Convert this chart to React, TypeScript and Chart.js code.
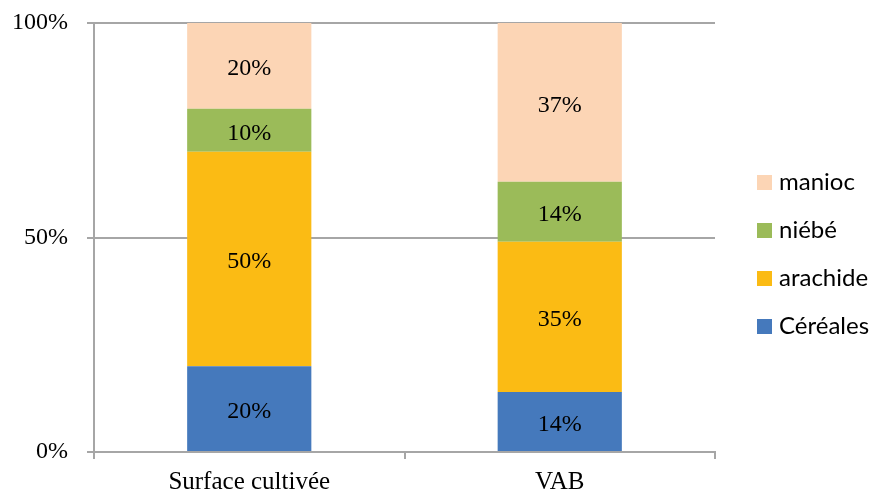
import React, { useEffect, useRef } from "react";
import { Chart, registerables } from "chart.js";

Chart.register(...registerables);

const categories = ["Surface cultivée", "VAB"];
const seriesNames = ["Céréales", "arachide", "niébé", "manioc"];
const cereales = [20, 14];
const arachide = [50, 35];
const niebe = [10, 14];
const manioc = [20, 37];
const seriesColors = ["#4579BC", "#FBBB14", "#9BBB59", "#FCD5B5"];
const yTicks = [0, 50, 100];

const SERIF = "'Liberation Serif', 'Times New Roman', serif";
const SANS = "Lato, 'Liberation Sans', sans-serif";
const GRID = "#a6a6a6";

const labelPlugin = {
  id: "segLabels",
  afterDatasetsDraw(chart: any) {
    const ctx = chart.ctx;
    ctx.save();
    ctx.font = `24px ${SERIF}`;
    ctx.fillStyle = "#000";
    ctx.textAlign = "center";
    ctx.textBaseline = "middle";
    chart.data.datasets.forEach((ds: any, i: number) => {
      const meta = chart.getDatasetMeta(i);
      meta.data.forEach((el: any, j: number) => {
        const v = ds.data[j];
        ctx.fillText(`${v}%`, el.x, (el.y + el.base) / 2 + 3);
      });
    });
    ctx.restore();
  },
};

const legendPlugin = {
  id: "customLegend",
  afterDraw(chart: any) {
    const ctx = chart.ctx;
    ctx.save();
    const boxX = 757;
    const box = 15;
    const centers = [182.5, 230.5, 278.5, 326.5];
    const order = [3, 2, 1, 0];
    ctx.font = `24px ${SANS}`;
    ctx.textBaseline = "middle";
    ctx.textAlign = "left";
    order.forEach((di, k) => {
      const ds = chart.data.datasets[di];
      const cy = centers[k];
      ctx.fillStyle = ds.backgroundColor;
      ctx.fillRect(boxX, cy - box / 2, box, box);
      ctx.fillStyle = "#000";
      ctx.fillText(ds.label, 779, cy);
    });
    ctx.restore();
  },
};

export default function App() {
  const ref = useRef<HTMLCanvasElement>(null);
  useEffect(() => {
    if (!ref.current) return;
    const data = [cereales, arachide, niebe, manioc];
    const chart = new Chart(ref.current, {
      type: "bar",
      data: {
        labels: categories,
        datasets: seriesNames.map((n, i) => ({
          label: n,
          data: data[i],
          backgroundColor: seriesColors[i],
          borderWidth: 0,
          barPercentage: 0.4,
          categoryPercentage: 1,
        })),
      },
      options: {
        responsive: false,
        animation: false,
        layout: { padding: { top: 23, right: 157, left: 0, bottom: 0 } },
        plugins: {
          legend: { display: false },
          tooltip: { enabled: false },
        },
        scales: {
          x: {
            stacked: true,
            offset: true,
            afterFit: (s: any) => {
              s.height = 41;
              s.paddingLeft = 0;
              s.paddingRight = 0;
            },
            grid: {
              offset: true,
              drawOnChartArea: false,
              drawTicks: true,
              tickLength: 7,
              color: GRID,
              lineWidth: 2,
            },
            border: { display: true, color: GRID, width: 2 },
            ticks: {
              color: "#000",
              font: { family: SERIF, size: 25 },
              padding: 8,
            },
          },
          y: {
            stacked: true,
            min: 0,
            max: 100,
            afterFit: (s: any) => {
              s.width = 94;
              s.paddingTop = 0;
              s.paddingBottom = 0;
            },
            afterBuildTicks: (s: any) => {
              s.ticks = yTicks.map((v) => ({ value: v }));
            },
            grid: {
              color: GRID,
              lineWidth: 2,
              tickLength: 7,
              drawTicks: true,
            },
            border: { display: true, color: GRID, width: 2 },
            ticks: {
              color: "#000",
              font: { family: SERIF, size: 24 },
              padding: 19,
              callback: (v: any) => `${v}%`,
            },
          },
        },
      },
      plugins: [labelPlugin, legendPlugin],
    });
    return () => chart.destroy();
  }, []);
  return (
    <div style={{ position: "fixed", left: 0, top: 0, width: 872, height: 493, background: "#fff" }}>
      <canvas ref={ref} width={872} height={493} style={{ width: 872, height: 493 }} />
    </div>
  );
}
